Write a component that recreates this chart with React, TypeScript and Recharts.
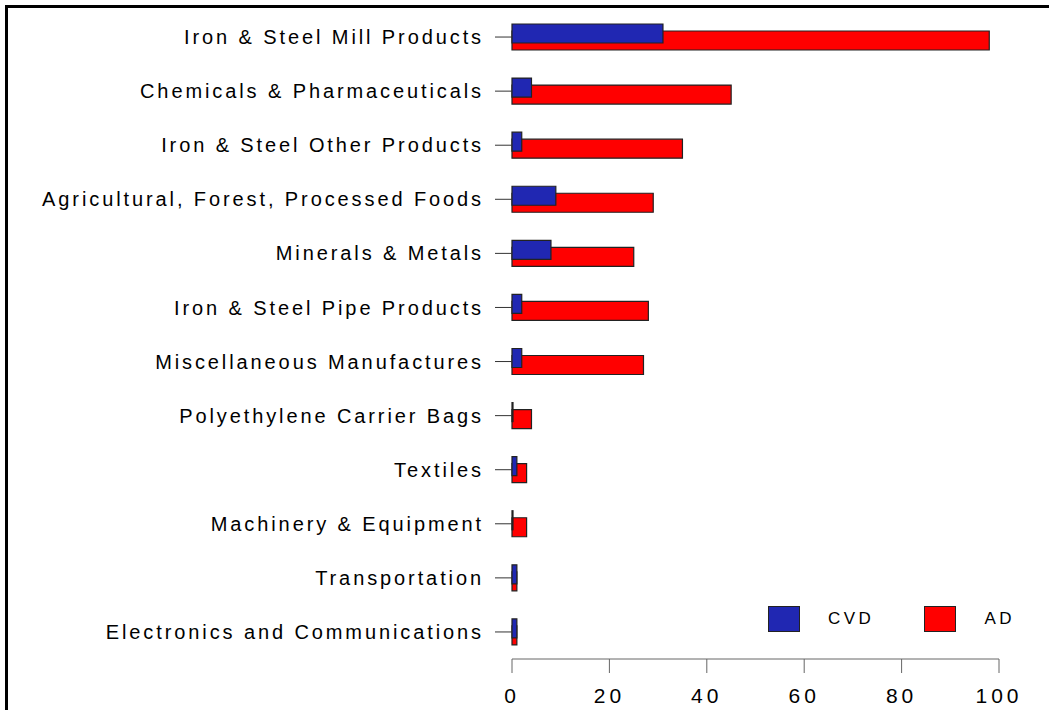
import React from 'react';
import { BarChart, Bar, XAxis, YAxis, Legend } from 'recharts';

const categories = [
  'Iron & Steel Mill Products',
  'Chemicals & Pharmaceuticals',
  'Iron & Steel Other Products',
  'Agricultural, Forest, Processed Foods',
  'Minerals & Metals',
  'Iron & Steel Pipe Products',
  'Miscellaneous Manufactures',
  'Polyethylene Carrier Bags',
  'Textiles',
  'Machinery & Equipment',
  'Transportation',
  'Electronics and Communications',
];
const adValues = [98, 45, 35, 29, 25, 28, 27, 4, 3, 3, 1, 1];
const cvdValues = [31, 4, 2, 9, 8, 2, 2, 0, 1, 0, 1, 1];
const xTicks = [0, 20, 40, 60, 80, 100];
const legendOrder = ['CVD', 'AD'];

const data = categories.map((name, i) => ({ name, AD: adValues[i], CVD: cvdValues[i] }));

const FONT = '"Liberation Sans", Arial, Helvetica, sans-serif';

const LegendContent = (props: any) => {
  const payload = (props.payload || []) as any[];
  const items = legendOrder
    .map((k) => payload.find((p) => p.value === k))
    .filter(Boolean);
  return (
    <div style={{ display: 'flex', alignItems: 'center', fontFamily: FONT }}>
      {items.map((p: any, i: number) => (
        <div key={p.value} style={{ display: 'flex', alignItems: 'center', marginLeft: i === 0 ? 0 : 50 }}>
          <div
            style={{
              width: 30,
              height: 24,
              background: p.color,
              border: '1px solid #222',
            }}
          />
          <span style={{ marginLeft: 28, fontSize: 17, letterSpacing: 3.5, color: '#000' }}>{p.value}</span>
        </div>
      ))}
    </div>
  );
};

export default function App() {
  return (
    <div style={{ position: 'relative', width: 1049, height: 710, overflow: 'hidden', background: '#fff' }}>
      <style>{`body{margin:0;}`}</style>
      <div
        style={{
          position: 'absolute',
          left: 5,
          top: 5,
          width: 1044,
          height: 705,
          borderTop: '3px solid #000',
          borderLeft: '3px solid #000',
          boxSizing: 'border-box',
        }}
      />
      <div style={{ position: 'absolute', left: 0, top: 0 }}>
        <BarChart
          width={1049}
          height={710}
          data={data}
          layout="vertical"
          margin={{ top: 10, right: 50, bottom: 0, left: 0 }}
          barSize={19}
          barGap={-26}
        >
          <XAxis
            type="number"
            domain={[0, 100]}
            ticks={xTicks}
            height={51}
            stroke="#666"
            tickSize={14}
            tickMargin={15}
            tick={{ fill: '#000', fontSize: 21, fontFamily: FONT, letterSpacing: 4 }}
          />
          <YAxis
            type="category"
            dataKey="name"
            width={512}
            axisLine={false}
            tickSize={17}
            tickMargin={11}
            tickLine={{ stroke: '#333' }}
            interval={0}
            tick={{ fill: '#000', fontSize: 20, fontFamily: FONT, letterSpacing: 2.9 }}
          />
          <Legend
            layout="horizontal"
            verticalAlign="middle"
            align="center"
            content={<LegendContent />}
            wrapperStyle={{ left: 768, top: 606, width: 270 }}
          />
          <Bar dataKey="AD" fill="#FF0000" stroke="#222" strokeWidth={1.2} isAnimationActive={false} />
          <Bar dataKey="CVD" fill="#2027B2" stroke="#222" strokeWidth={1.2} minPointSize={1} isAnimationActive={false} />
        </BarChart>
      </div>
    </div>
  );
}
